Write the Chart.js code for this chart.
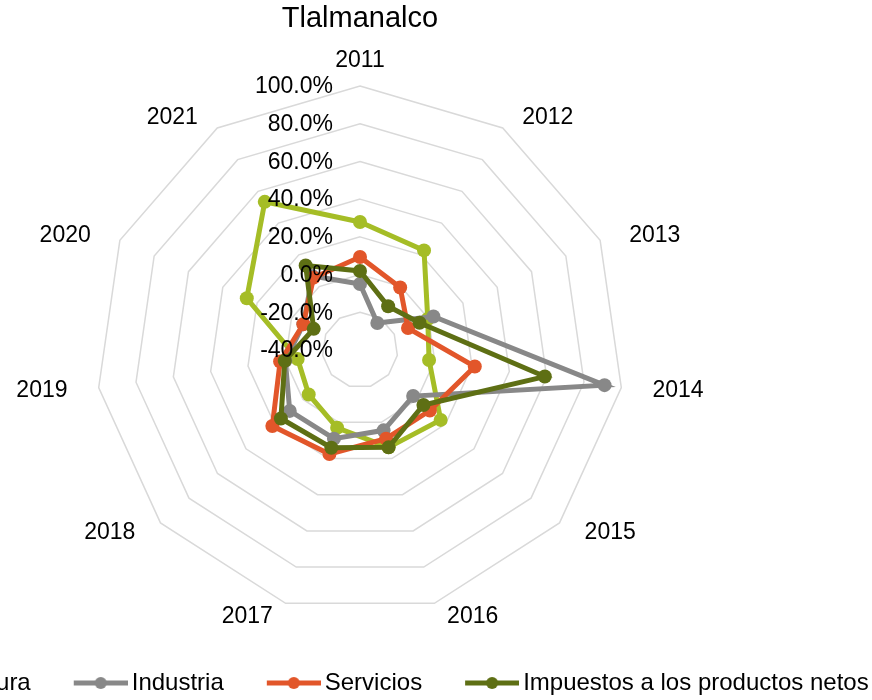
<!DOCTYPE html>
<html>
<head>
<meta charset="utf-8">
<script src="https://cdn.jsdelivr.net/npm/chart.js@4.4.1/dist/chart.umd.min.js"></script>
<style>
  html, body { margin: 0; padding: 0; overflow: hidden; background: #fff; }
  #wrap { position: absolute; left: -185px; top: 0; width: 1090px; height: 705px; }
</style>
</head>
<body>
<div id="wrap"><canvas id="radarChart" width="1090" height="705"></canvas></div>
<script>
"use strict";

// data (percent)
var years = ['2011', '2012', '2013', '2014', '2015', '2016', '2017', '2018', '2019', '2020', '2021'];
var agricultura = [27.9, 22.8, -0.5, -3.0, 16.6, 13.8, 3.0, -4.0, -6.6, 26.0, 53.4];
var industria = [-5.0, -23.0, 2.8, 91.0, -2.7, 4.4, 9.0, 9.3, 0.0, -7.0, 6.7];
var servicios = [9.3, -0.6, -12.0, 21.5, 9.0, 9.0, 17.5, 21.5, 2.8, -7.0, 5.6];
var impuestos = [1.9, -12.4, -5.3, 59.0, 4.5, 13.8, 14.0, 15.5, 0.3, -13.0, 13.3];
var tickValues = [-40, -20, 0, 20, 40, 60, 80, 100];

var FONT = '"Liberation Sans", Arial, sans-serif';
var colors = ['#a5bd26', '#888888', '#e2562a', '#5e6f14'];

// legend icon: line with a dot, like the office chart
function makeIcon(color) {
    var c = document.createElement('canvas');
    c.width = 81;
    c.height = 14;
    var g = c.getContext('2d');
    g.strokeStyle = color;
    g.lineWidth = 5;
    g.beginPath();
    g.moveTo(27, 7);
    g.lineTo(81, 7);
    g.stroke();
    g.fillStyle = color;
    g.beginPath();
    g.arc(54, 7, 6, 0, Math.PI * 2);
    g.fill();
    return c;
}
var icons = colors.map(makeIcon);

function series(label, data, i) {
    return {
        label: label,
        data: data,
        borderColor: colors[i],
        backgroundColor: colors[i],
        pointBackgroundColor: colors[i],
        pointBorderWidth: 0,
        pointRadius: 7,
        borderWidth: 5,
        fill: false,
        tension: 0,
        order: 3 - i
    };
}

// value labels left of the vertical axis, category labels pushed outward like excel
var axisText = {
    id: 'axisText',
    afterDatasetsDraw: function (chart) {
        var s = chart.scales.r;
        var ctx = chart.ctx;
        ctx.save();
        ctx.font = '23px ' + FONT;
        ctx.fillStyle = '#000';
        ctx.textBaseline = 'middle';
        ctx.textAlign = 'right';
        s.ticks.forEach(function (t) {
            var y = s.yCenter - s.getDistanceFromCenterForValue(t.value);
            ctx.fillText(t.value.toFixed(1) + '%', s.xCenter - 27, y + 1);
        });
        ctx.textAlign = 'center';
        chart.data.labels.forEach(function (lab, i) {
            var a = s.getIndexAngle(i);
            var sin = Math.sin(a), cos = Math.cos(a);
            var p = s.getPointPosition(i, s.drawingArea + 26);
            var side = Math.abs(sin) < 1e-6 ? 0 : (sin > 0 ? 1 : -1);
            ctx.fillText(lab, p.x + side * 31, p.y + (side ? 13 * cos : 0) + 1);
        });
        ctx.restore();
    }
};

var ctx = document.getElementById('radarChart').getContext('2d');
var myChart = new Chart(ctx, {
    type: 'radar',
    data: {
        labels: years,
        datasets: [
            series('Agricultura', agricultura, 0),
            series('Industria', industria, 1),
            series('Servicios', servicios, 2),
            series('Impuestos a los productos netos', impuestos, 3)
        ]
    },
    options: {
        responsive: false,
        animation: false,
        devicePixelRatio: 1,
        layout: { padding: 0 },
        scales: {
            r: {
                min: tickValues[0],
                max: tickValues[tickValues.length - 1],
                ticks: { stepSize: tickValues[1] - tickValues[0], display: false },
                angleLines: { display: false },
                grid: { circular: false, color: '#d9d9d9', lineWidth: 1.5 },
                pointLabels: { display: false }
            }
        },
        plugins: {
            title: {
                display: true,
                text: 'Tlalmanalco',
                color: '#000',
                font: { family: FONT, size: 29, weight: 'normal' },
                padding: { top: 2, bottom: 49.2 }
            },
            legend: {
                position: 'bottom',
                align: 'start',
                reverse: true,
                title: { display: true, text: '', padding: { top: 31.8, bottom: 0 }, font: { size: 1 } },
                labels: {
                    color: '#000',
                    font: { family: FONT, size: 24 },
                    usePointStyle: true,
                    pointStyleWidth: 65,
                    boxHeight: 14,
                    padding: 24,
                    generateLabels: function (chart) {
                        var items = Chart.defaults.plugins.legend.labels.generateLabels(chart);
                        items.forEach(function (it) { it.pointStyle = icons[it.datasetIndex]; });
                        return items;
                    }
                }
            },
            tooltip: { enabled: false }
        }
    },
    plugins: [axisText]
});
</script>
</body>
</html>
